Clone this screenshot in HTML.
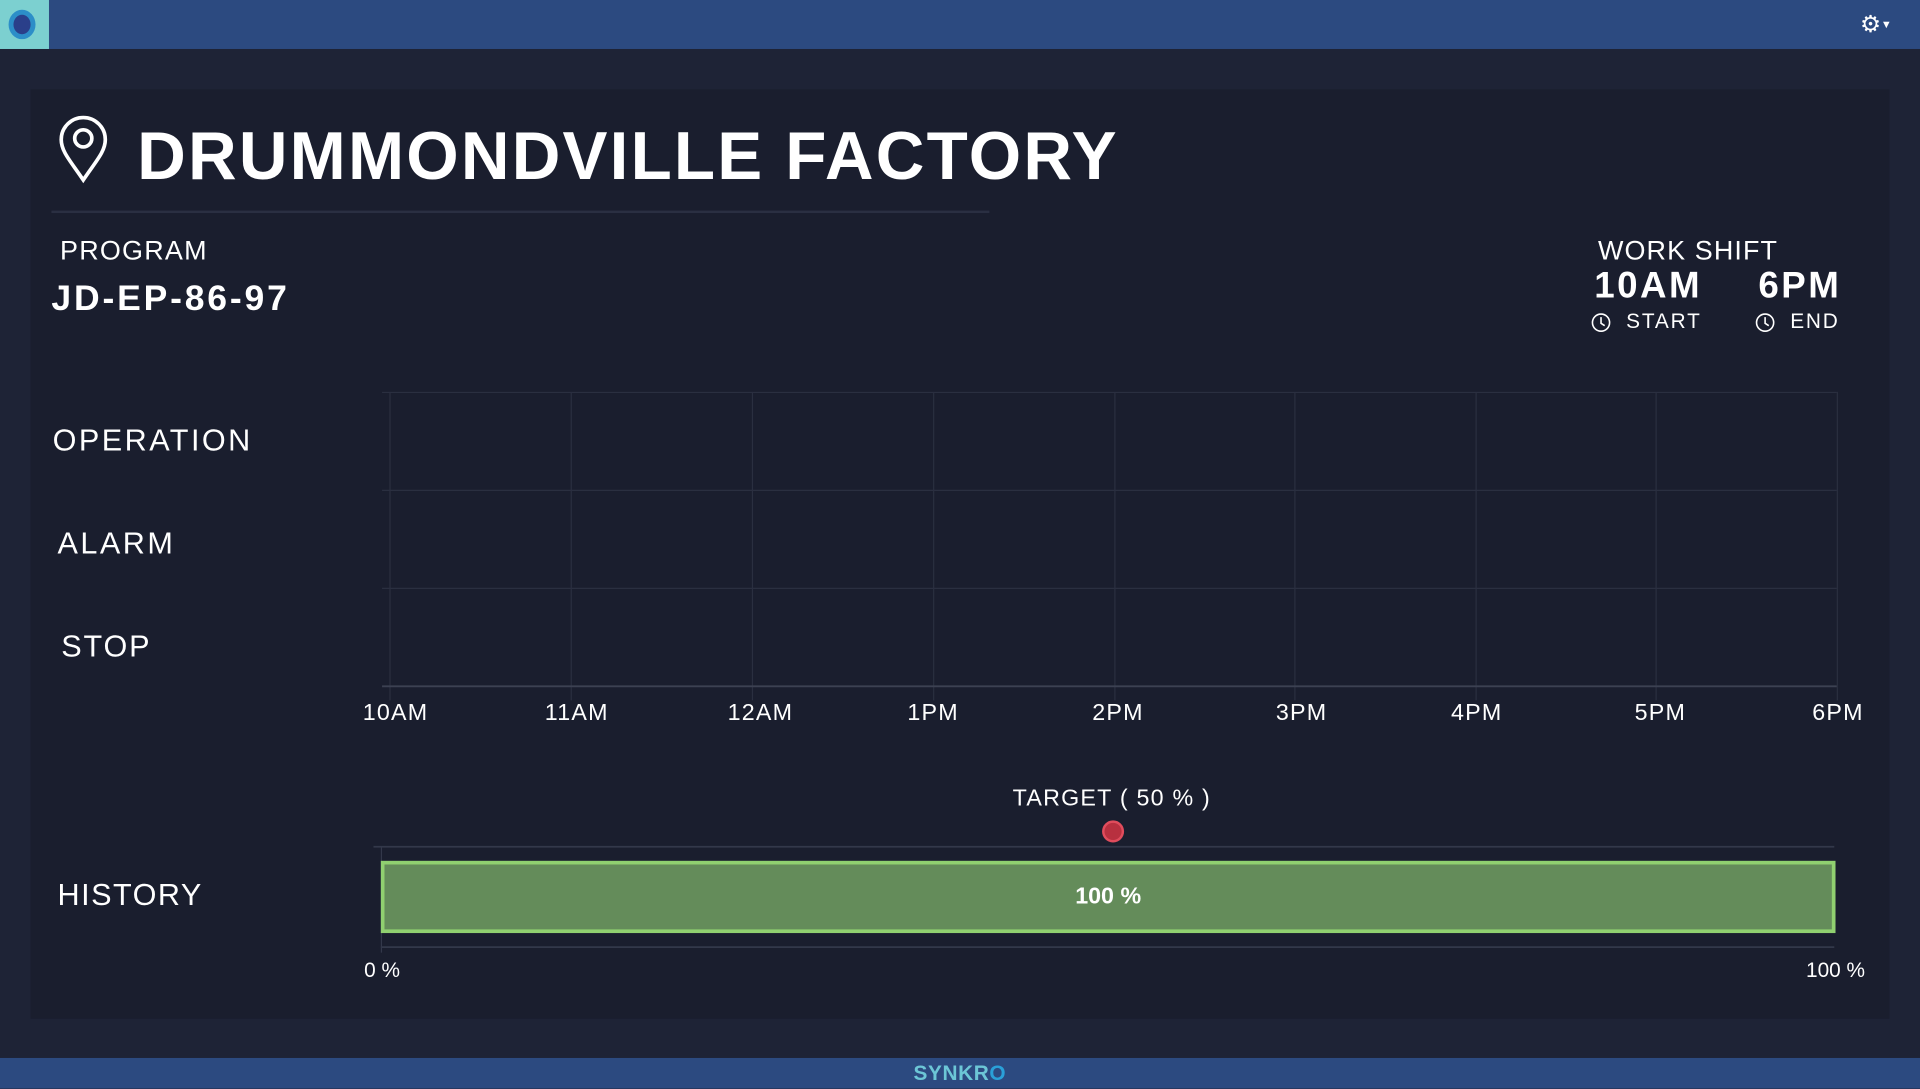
<!DOCTYPE html>
<html><head><meta charset="utf-8"><style>
html,body{margin:0;padding:0;background:#1e2336;overflow:hidden;width:1920px;height:1088px}
#w{position:absolute;left:0;top:0;width:1568px;height:889px;transform:scale(1.22449);transform-origin:0 0;font-family:"Liberation Sans",sans-serif;color:#fff}
.a{position:absolute;white-space:nowrap}
</style></head><body><div id="w">
<div class="a" style="left:0;top:0;width:1568px;height:40px;background:#2c4a80"></div>
<div class="a" style="left:0;top:0;width:40px;height:40px;background:#7cd0d0"></div>
<div class="a" style="left:7px;top:8px;width:22px;height:24px;border-radius:50%;background:#2c8ec8"></div>
<div class="a" style="left:11px;top:12px;width:14px;height:16px;border-radius:50%;background:#2a3f8a"></div>
<div class="a" style="left:1519px;top:9px;font-size:19px">⚙<span style="font-size:9px;vertical-align:3px">▼</span></div>
<div class="a" style="left:25px;top:73px;width:1518px;height:759px;background:#1a1e2e"></div>
<svg class="a" style="left:46px;top:94px" width="44" height="56" viewBox="0 0 44 56"><path d="M22 53 C12 38 4 30 4 20 A18 18 0 0 1 40 20 C40 30 32 38 22 53Z" fill="none" stroke="#fff" stroke-width="3"/><circle cx="22" cy="19" r="7" fill="none" stroke="#fff" stroke-width="3"/></svg>
<div class="a" style="left:112px;top:96px;font-size:55px;font-weight:bold;letter-spacing:1.8px;line-height:62px">DRUMMONDVILLE FACTORY</div>
<div class="a" style="left:42px;top:172px;width:766px;height:2px;background:#2a2f42"></div>
<div class="a" style="left:49px;top:192px;font-size:22px;letter-spacing:1px">PROGRAM</div>
<div class="a" style="left:42px;top:228px;font-size:29px;font-weight:bold;letter-spacing:2.3px">JD-EP-86-97</div>
<div class="a" style="left:1305px;top:192px;font-size:22px;letter-spacing:0.9px">WORK SHIFT</div>
<div class="a" style="left:1302px;top:217px;font-size:30px;font-weight:bold;letter-spacing:2px">10AM</div>
<div class="a" style="left:1436px;top:217px;font-size:30px;font-weight:bold;letter-spacing:2px">6PM</div>
<svg class="a" style="left:1299px;top:255px" width="17" height="17"><circle cx="8.5" cy="8.5" r="7" fill="none" stroke="#fff" stroke-width="1.3"/><path d="M8.5 4v5l3 2" fill="none" stroke="#fff" stroke-width="1.3"/></svg>
<svg class="a" style="left:1433px;top:255px" width="17" height="17"><circle cx="8.5" cy="8.5" r="7" fill="none" stroke="#fff" stroke-width="1.3"/><path d="M8.5 4v5l3 2" fill="none" stroke="#fff" stroke-width="1.3"/></svg>
<div class="a" style="left:1328px;top:253px;font-size:17px;letter-spacing:1.5px">START</div>
<div class="a" style="left:1462px;top:253px;font-size:17px;letter-spacing:1.5px">END</div>
<div class="a" style="left:43px;top:346px;font-size:25px;letter-spacing:2px">OPERATION</div>
<div class="a" style="left:47px;top:430px;font-size:25px;letter-spacing:2px">ALARM</div>
<div class="a" style="left:50px;top:514px;font-size:25px;letter-spacing:1.5px">STOP</div>
<div class="a" style="left:47px;top:717px;font-size:25px;letter-spacing:1.2px">HISTORY</div>
<svg class="a" style="left:0;top:0" width="1568" height="889">
<g stroke="#2a2f40" stroke-width="1">
<line x1="312" y1="320.5" x2="1500" y2="320.5"/><line x1="312" y1="400.5" x2="1500" y2="400.5"/><line x1="312" y1="480.5" x2="1500" y2="480.5"/>
<line x1="318.5" y1="320" x2="318.5" y2="572"/><line x1="466.5" y1="320" x2="466.5" y2="572"/><line x1="614.5" y1="320" x2="614.5" y2="572"/><line x1="762.5" y1="320" x2="762.5" y2="572"/><line x1="910.5" y1="320" x2="910.5" y2="572"/><line x1="1057.5" y1="320" x2="1057.5" y2="572"/><line x1="1205.5" y1="320" x2="1205.5" y2="572"/><line x1="1352.5" y1="320" x2="1352.5" y2="572"/><line x1="1500.5" y1="320" x2="1500.5" y2="572"/>
</g>
<line x1="312" y1="560.5" x2="1500" y2="560.5" stroke="#3c4152" stroke-width="1.5"/>
<line x1="305" y1="691.5" x2="1498" y2="691.5" stroke="#33384a" stroke-width="1.5"/>
<line x1="311" y1="773.5" x2="1498" y2="773.5" stroke="#33384a" stroke-width="1.5"/>
<line x1="311.5" y1="691" x2="311.5" y2="778" stroke="#33384a" stroke-width="1"/>
<rect x="312.5" y="704.5" width="1185" height="56" fill="#648c5a" stroke="#90d070" stroke-width="3"/>
<circle cx="909" cy="679" r="8" fill="#b8303f" stroke="#e04c5c" stroke-width="2"/>
<g fill="#fff" font-family="Liberation Sans, sans-serif" font-size="19" text-anchor="middle" letter-spacing="1">
<text x="323" y="588">10AM</text><text x="471" y="588">11AM</text><text x="621" y="588">12AM</text><text x="762" y="588">1PM</text><text x="913" y="588">2PM</text><text x="1063" y="588">3PM</text><text x="1206" y="588">4PM</text><text x="1356" y="588">5PM</text><text x="1501" y="588">6PM</text>
<text x="908" y="658">TARGET ( 50 % )</text>
<text x="312" y="798" font-size="17" letter-spacing="0">0 %</text><text x="1499" y="798" font-size="17" letter-spacing="0">100 %</text>
<text x="905" y="738" font-weight="bold" letter-spacing="0">100 %</text>
</g>
</svg>
<div class="a" style="left:0;top:864px;width:1568px;height:25px;background:#2c4a80"></div>
<div class="a" style="left:746px;top:867px;font-size:17px;font-weight:bold;color:#6cc6d6;letter-spacing:0.5px">SYNKR<span style="color:#2aa0d8">O</span></div>
</div></body></html>
